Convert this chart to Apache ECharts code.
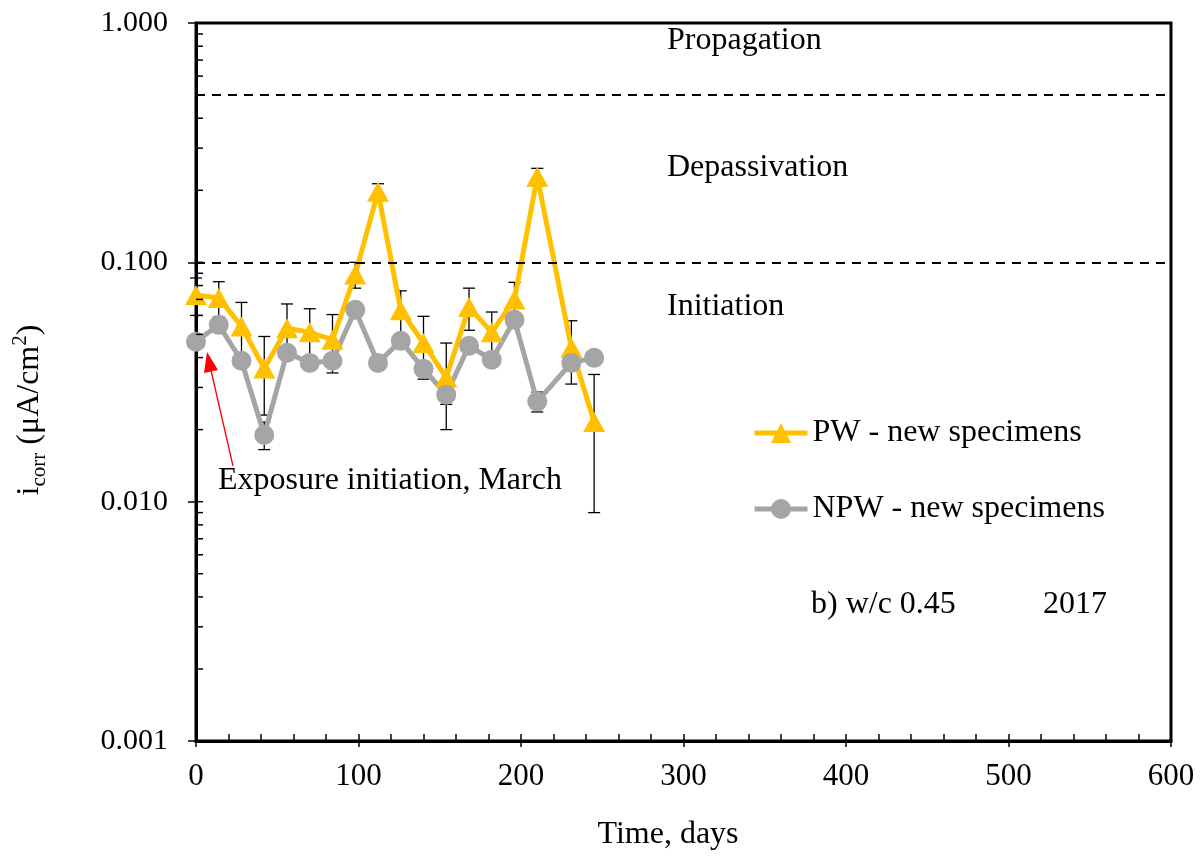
<!DOCTYPE html>
<html><head><meta charset="utf-8">
<script src="https://cdn.jsdelivr.net/npm/echarts@6/dist/echarts.min.js"></script>
<style>html,body{margin:0;padding:0;background:#fff}#c{width:1202px;height:856px}</style>
</head><body><div id="c"></div>
<script>
// ---- data ----
const days = [0, 14, 28, 42, 56, 70, 84, 98, 112, 126, 140, 154, 168, 182, 196, 210, 231, 245];
const pwValues = [0.073, 0.071, 0.054, 0.036, 0.053, 0.051, 0.0475, 0.089, 0.197, 0.063, 0.046, 0.033, 0.065, 0.051, 0.070, 0.228, 0.044, 0.0215];
const pwErrors = [0.013, 0.012, 0.014, 0.013, 0.014, 0.013, 0.013, 0.011, 0.016, 0.013, 0.0135, 0.013, 0.013, 0.011, 0.0125, 0.019, 0.013, 0.0125];
const npwValues = [0.0466, 0.0548, 0.0388, 0.019, 0.0419, 0.038, 0.0388, 0.0633, 0.038, 0.047, 0.0359, 0.028, 0.0448, 0.0392, 0.0575, 0.0262, 0.038, 0.0399];
const npwErrors = [0.0025, 0.0025, 0.0025, 0.0025, 0.0025, 0.0025, 0.0025, 0.0025, 0.0025, 0.0025, 0.0025, 0.0025, 0.0025, 0.0025, 0.0025, 0.0025, 0.0025, 0.0025];
const thresholds = [0.5, 0.1];
const yInsideTicks = [0.001, 0.002, 0.003, 0.004, 0.005, 0.006, 0.007, 0.008, 0.009,
  0.01, 0.02, 0.03, 0.04, 0.05, 0.06, 0.07, 0.08, 0.09,
  0.1, 0.2, 0.3, 0.4, 0.5, 0.6, 0.7, 0.8, 0.9, 1];
const seriesNames = ['PW - new specimens', 'NPW - new specimens'];
const zoneLabels = ['Propagation', 'Depassivation', 'Initiation'];

const FONT = '"Liberation Serif", "Times New Roman", serif';
const TF = '32px ' + FONT;

const pwData = days.map((d, i) => [d, pwValues[i]]);
const npwData = days.map((d, i) => [d, npwValues[i]]);
const pwErr = days.map((d, i) => [d, pwValues[i] - pwErrors[i], pwValues[i] + pwErrors[i]]);
const npwErr = days.map((d, i) => [d, npwValues[i] - npwErrors[i], npwValues[i] + npwErrors[i]]);

function errorRender(params, api) {
  const x = api.value(0), lo = api.value(1), hi = api.value(2);
  const t = api.coord([x, hi]), b = api.coord([x, lo]);
  const hw = 6, st = { stroke: '#000', lineWidth: 1.3 };
  return { type: 'group', children: [
    { type: 'line', shape: { x1: t[0], y1: t[1], x2: b[0], y2: b[1] }, style: st },
    { type: 'line', shape: { x1: t[0] - hw, y1: t[1], x2: t[0] + hw, y2: t[1] }, style: st },
    { type: 'line', shape: { x1: b[0] - hw, y1: b[1], x2: b[0] + hw, y2: b[1] }, style: st }
  ]};
}
function yTickRender(params, api) {
  const p = api.coord([0, api.value(1)]);
  return { type: 'line', shape: { x1: p[0], y1: p[1], x2: p[0] + 7, y2: p[1] }, style: { stroke: '#000', lineWidth: 1.5 } };
}
function txt(s, x, y, align) {
  return { type: 'text', x: x, y: y, style: { text: s, font: TF, fill: '#000', align: align || 'left', verticalAlign: 'middle' } };
}

const chart = echarts.init(document.getElementById('c'));
chart.setOption({
  animation: false,
  backgroundColor: '#fff',
  grid: { left: 196, right: 31, top: 23, bottom: 115, show: true, borderColor: '#000', borderWidth: 3, backgroundColor: 'transparent' },
  xAxis: [{
    type: 'value', min: 0, max: 600, interval: 100,
    axisLine: { show: true, onZero: false, lineStyle: { color: '#000', width: 3 } },
    axisTick: { show: true, inside: true, length: 7, lineStyle: { color: '#000', width: 1.5 } },
    minorTick: { show: true, splitNumber: 5, length: 7, lineStyle: { color: '#000', width: 1.5 } },
    axisLabel: { color: '#000', fontFamily: FONT, fontSize: 31, margin: 20 },
    splitLine: { show: false }
  }, {
    type: 'value', min: 0, max: 600, interval: 100, position: 'bottom',
    axisLine: { show: false },
    axisTick: { show: true, inside: false, length: 6, lineStyle: { color: '#000', width: 1.5 } },
    axisLabel: { show: false }, splitLine: { show: false }
  }],
  yAxis: {
    type: 'log', logBase: 10, min: 0.001, max: 1,
    axisLine: { show: true, onZero: false, lineStyle: { color: '#000', width: 3 } },
    axisTick: { show: true, inside: false, length: 8, lineStyle: { color: '#000', width: 1.5 } },
    axisLabel: { color: '#000', fontFamily: FONT, fontSize: 30, margin: 28, formatter: v => Number(v).toFixed(3) },
    splitLine: { show: false }
  },
  legend: {
    data: seriesNames, orient: 'vertical', left: 747, top: 412,
    itemWidth: 53, itemHeight: 25, itemGap: 44,
    lineStyle: { width: 5 },
    textStyle: { color: '#000', fontFamily: FONT, fontSize: 32, lineHeight: 32 }
  },
  series: [
    { type: 'custom', name: 'yticks', renderItem: yTickRender, data: yInsideTicks.map(v => [0, v]), encode: { x: 0, y: 1 }, silent: true, z: 5 },
    { type: 'line', name: 'thresholds', data: [], silent: true,
      markLine: { symbol: 'none', silent: true, label: { show: false },
        lineStyle: { color: '#000', type: [9, 7], width: 2 },
        data: thresholds.map(v => ({ yAxis: v })) } },
    { type: 'custom', name: 'pwErr', renderItem: errorRender, data: pwErr, encode: { x: 0, y: [1, 2] }, z: 1 },
    { type: 'custom', name: 'npwErr', renderItem: errorRender, data: npwErr, encode: { x: 0, y: [1, 2] }, z: 1 },
    { type: 'line', name: seriesNames[0], data: pwData, symbol: 'triangle', symbolSize: [22, 20],
      lineStyle: { color: '#FFC000', width: 5 }, itemStyle: { color: '#FFC000' }, z: 2 },
    { type: 'line', name: seriesNames[1], data: npwData, symbol: 'circle', symbolSize: 20,
      lineStyle: { color: '#A5A5A5', width: 5 }, itemStyle: { color: '#A5A5A5' }, z: 2 }
  ],
  graphic: [
    txt(zoneLabels[0], 667, 41),
    txt(zoneLabels[1], 667, 168),
    txt(zoneLabels[2], 667, 307),
    txt('Exposure initiation, March', 218, 481),
    txt('b) w/c 0.45', 811, 605),
    txt('2017', 1043, 605),
    txt('Time, days', 668, 835, 'center'),
    { type: 'text', x: 30, y: 410, rotation: Math.PI / 2,
      style: { text: '{m|i}{s|corr}{m| (μA/cm}{p|2}{m|)}', align: 'center', verticalAlign: 'middle', fill: '#000',
        rich: {
          m: { fontFamily: FONT, fontSize: 32, lineHeight: 40, fill: '#000' },
          s: { fontFamily: FONT, fontSize: 21, lineHeight: 21, verticalAlign: 'bottom', fill: '#000' },
          p: { fontFamily: FONT, fontSize: 21, lineHeight: 21, verticalAlign: 'top', fill: '#000' }
        } } },
    { type: 'line', shape: { x1: 233, y1: 466, x2: 210, y2: 366 }, style: { stroke: '#FF0000', lineWidth: 1.3 } },
    { type: 'polygon', shape: { points: [[207, 352], [218, 370], [204, 373]] }, style: { fill: '#FF0000' } }
  ]
});
</script>
</body></html>
